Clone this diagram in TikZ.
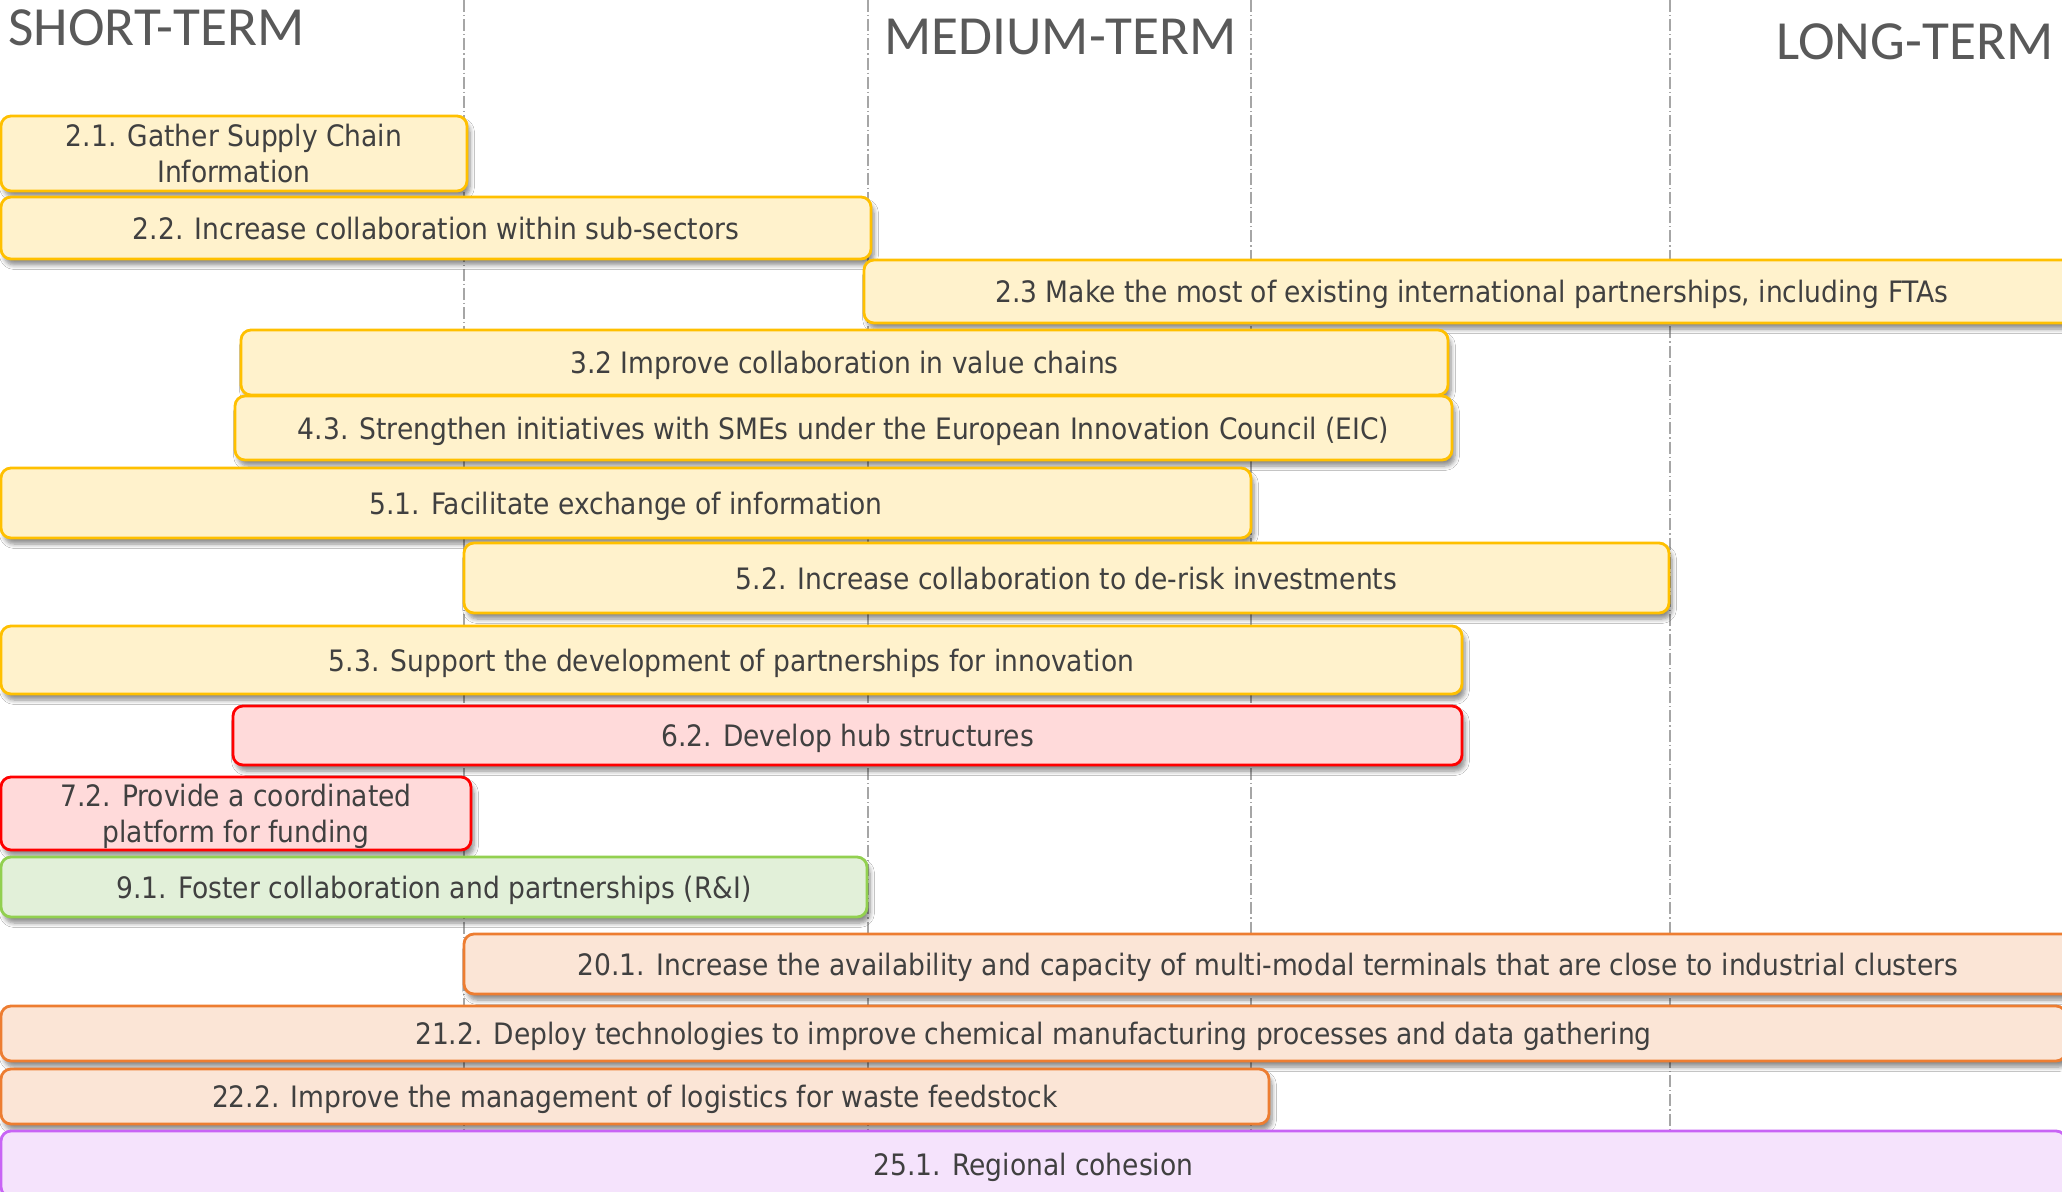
\documentclass[tikz,border=0pt]{standalone}
\usepackage{fontspec}
\setmainfont{DejaVu Sans Condensed}
\newfontfamily\titlefont{Carlito}
\usetikzlibrary{shadows.blur}
\definecolor{txt}{HTML}{404040}
\definecolor{titleC}{HTML}{595959}
\definecolor{guideC}{HTML}{A6A6A6}
\definecolor{goldD}{HTML}{FFC000}
\definecolor{goldF}{HTML}{FFF2CC}
\definecolor{redD}{HTML}{FF0000}
\definecolor{redF}{HTML}{FFDADA}
\definecolor{greenD}{HTML}{92D050}
\definecolor{greenF}{HTML}{E2F0D9}
\definecolor{orangeD}{HTML}{ED7D31}
\definecolor{orangeF}{HTML}{FBE5D6}
\definecolor{purpleD}{HTML}{C864F5}
\definecolor{purpleF}{HTML}{F5E3FC}
\begin{document}
\begin{tikzpicture}[x=0.5pt,y=-0.5pt,
  bar/.style={draw, rounded corners=5pt, line width=1.4pt, inner sep=0pt,
    align=center, text=txt, text depth=0pt, font=\fontsize{14.75}{18}\selectfont,
    blur shadow={shadow xshift=1.5pt, shadow yshift=-3pt, shadow blur steps=6, shadow opacity=45}},
  gold/.style={bar, draw=goldD, fill=goldF},
  redbar/.style={bar, draw=redD, fill=redF},
  greenbar/.style={bar, draw=greenD, fill=greenF},
  orangebar/.style={bar, draw=orangeD, fill=orangeF},
  purplebar/.style={bar, draw=purpleD, fill=purpleF},
  guide/.style={draw=guideC, line width=0.6pt, dash pattern=on 6pt off 1.5pt on 0.6pt off 1.5pt},
  term/.style={anchor=base west, inner sep=0pt, text=titleC, font=\titlefont\fontsize{27.6}{30}\selectfont}]
\useasboundingbox (0,0) rectangle (2062,1192);
\clip (0,0) rectangle (2062,1192);
\fill[white] (0,0) rectangle (2062,1192);

% guide lines
\coordinate (g1t) at (464,0);  \coordinate (g1b) at (464,1192);
\coordinate (g2t) at (868,0);  \coordinate (g2b) at (868,1192);
\coordinate (g3t) at (1251,0); \coordinate (g3b) at (1251,1192);
\coordinate (g4t) at (1670,0); \coordinate (g4b) at (1670,1192);
\draw[guide] (g1t) -- (g1b);
\draw[guide] (g2t) -- (g2b);
\draw[guide] (g3t) -- (g3b);
\draw[guide] (g4t) -- (g4b);

% titles
\node[term] (st) at (8,46) {SHORT-TERM};
\node[term] (mt) at (884,55) {MEDIUM-TERM};
\node[term] (lt) at (1776,60) {LONG-TERM};

% bars
\node[gold, minimum width=233pt, minimum height=37.5pt] (b21) at (234,153.5) {2.1. Gather Supply Chain\\Information};
\node[gold, minimum width=435pt, minimum height=31pt] (b22) at (436,228) {2.2. Increase collaboration within sub-sectors};
\node[gold, minimum width=608pt, minimum height=31.5pt] (b23) at (1472,291.5) {2.3 Make the most of existing international partnerships, including FTAs};
\node[gold, minimum width=603.5pt, minimum height=32.5pt] (b32) at (844.5,362.5) {3.2 Improve collaboration in value chains};
\node[gold, minimum width=608.5pt, minimum height=32pt] (b43) at (843.5,428) {4.3. Strengthen initiatives with SMEs under the European Innovation Council (EIC)};
\node[gold, minimum width=625pt, minimum height=35pt] (b51) at (626,503) {5.1. Facilitate exchange of information};
\node[gold, minimum width=602.5pt, minimum height=35pt] (b52) at (1066.5,578) {5.2. Increase collaboration to de-risk investments};
\node[gold, minimum width=730.5pt, minimum height=34pt] (b53) at (731.5,660) {5.3. Support the development of partnerships for innovation};
\node[redbar, minimum width=614.5pt, minimum height=29.5pt] (b62) at (847.5,735.5) {6.2. Develop hub structures};
\node[redbar, minimum width=235pt, minimum height=36.5pt] (b72) at (236,813.5) {7.2. Provide a coordinated\\platform for funding};
\node[greenbar, minimum width=433pt, minimum height=30pt] (b91) at (434,887) {9.1. Foster collaboration and partnerships (R\&I)};
\node[orangebar, minimum width=804pt, minimum height=30pt] (b201) at (1268,964) {20.1. Increase the availability and capacity of multi-modal terminals that are close to industrial clusters};
\node[orangebar, minimum width=1032.5pt, minimum height=27.5pt] (b212) at (1033.5,1033.5) {21.2. Deploy technologies to improve chemical manufacturing processes and data gathering};
\node[orangebar, minimum width=634pt, minimum height=27.5pt] (b222) at (635,1096.5) {22.2. Improve the management of logistics for waste feedstock};
\node[purplebar, minimum width=1032.5pt, minimum height=33pt] (b251) at (1033.5,1164) {25.1. Regional cohesion};
\end{tikzpicture}
\end{document}
